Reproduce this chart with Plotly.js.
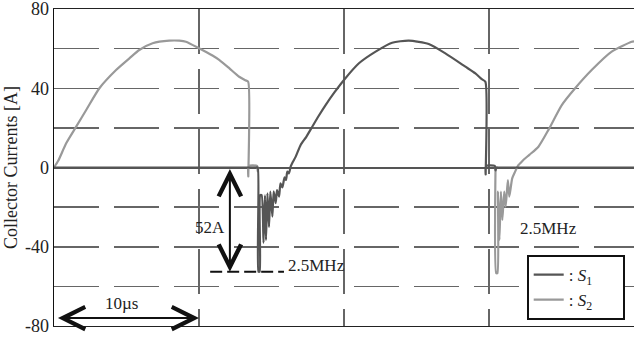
<!DOCTYPE html>
<html>
<head>
<meta charset="utf-8">
<script src="https://cdn.plot.ly/plotly-3.0.1.min.js"></script>
<style>html,body{margin:0;padding:0;background:#fff;}#chart{width:634px;height:337px;}</style>
</head>
<body>
<div id="chart"></div>
<script>
// ---- Data (time in µs, current in A) ----
const seriesNames = [': <i>S</i><sub>1</sub>&nbsp;&nbsp;&nbsp;&nbsp;&nbsp;&nbsp;', ': <i>S</i><sub>2</sub>&nbsp;&nbsp;&nbsp;&nbsp;&nbsp;&nbsp;'];

// S1 (dark trace)
const s1_t = [0, 13.95, 14.05, 14.10, 14.18, 14.22, 14.32, 14.45, 14.55, 14.62, 14.72, 14.83, 14.92, 15.06, 15.15, 15.29, 15.38, 15.52, 15.62, 15.75, 15.90, 16.00, 16.09, 16.20, 16.32, 16.45, 16.67, 17.01, 17.40, 17.81, 18.25, 18.73, 19.35, 20.00, 21.03, 22.18, 23.32, 24.47, 25.84, 26.99, 28.37, 29.06, 29.50, 29.75, 29.77, 29.79, 30.40, 30.45, 30.50, 30.60, 40];
const s1_i = [0, 0, 0, -52.6, -52.6, -14, -13.9, -38, -14, -36.6, -13, -30, -12.2, -24.8, -12, -18, -11.4, -14.7, -8, -10, -5, -6.3, -2.1, -3, 0.4, 2.5, 5.5, 11.4, 15.5, 20.6, 26, 31.5, 38, 44.2, 52.6, 58.5, 63.0, 64.0, 62.3, 57.6, 50.9, 47.5, 44.6, 43.3, -3.5, 0.8, 0.8, -1.5, 0, 0, 0];

// S2 (light trace)
const s2_t = [0, 0.30, 0.84, 1.53, 2.22, 3.13, 4.28, 5.20, 5.88, 6.80, 7.95, 8.64, 9.10, 10.00, 10.93, 11.39, 12.10, 12.77, 13.20, 13.39, 13.40, 13.42, 14.00, 14.05, 14.10, null, 30.45, 30.50, 30.58, 30.62, 30.72, 30.82, 30.92, 31.05, 31.15, 31.30, 31.40, 31.60, 31.80, 32.00, 32.15, 32.40, 32.80, 33.41, 34.10, 35.02, 35.94, 37.08, 38.46, 39.84, 40.00];
const s2_i = [0, 3.5, 12.2, 20.6, 29, 40, 49.2, 55.1, 59.3, 62.7, 64, 64, 63.5, 60.2, 56.5, 54.3, 50, 45.8, 44.0, 43.3, -4.5, 0.8, 0.8, -2, 0, null, 0, -53.4, -53.4, -12.2, -36.6, -12.2, -26.5, -12.2, -19.8, -6.3, -14.7, -5.5, -2.1, 1, 2.1, 4, 6.5, 10.5, 19, 31.5, 40, 49.2, 58.5, 63.5, 63.7];

// Axis ticks
const yTickVals = [-80, -60, -40, -20, 0, 20, 40, 60, 80];
const yTickText = ['-80', '', '-40', '', '0', '', '40', '', '80'];
const xTickVals = [10, 20, 30];

const serif = '"Liberation Serif", "Times New Roman", serif';

const traces = [
  {x: s2_t, y: s2_i, name: seriesNames[1], mode: 'lines', connectgaps: false,
   line: {color: '#999999', width: 2.2, shape: 'spline', smoothing: 0.6}},
  {x: s1_t, y: s1_i, name: seriesNames[0], mode: 'lines', connectgaps: false,
   line: {color: '#555555', width: 2.2, shape: 'spline', smoothing: 0.6}}
];

const layout = {
  width: 634, height: 337,
  margin: {l: 54, r: 0, t: 9, b: 11},
  paper_bgcolor: '#ffffff', plot_bgcolor: '#ffffff',
  font: {family: serif, size: 17, color: '#222'},
  showlegend: true,
  legend: {x: 0.815, y: 0.224, xanchor: 'left', yanchor: 'top',
           bgcolor: '#ffffff', bordercolor: '#111', borderwidth: 2,
           traceorder: 'reversed', font: {family: serif, size: 17, color: '#222'}},
  xaxis: {range: [0, 40], tickmode: 'array', tickvals: xTickVals, showticklabels: false,
          ticks: '', showgrid: true, gridcolor: '#666', gridwidth: 1.5, griddash: '45px,15px',
          zeroline: false, showline: true, linecolor: '#222', linewidth: 1, mirror: true},
  yaxis: {range: [-80, 80], tickmode: 'array', tickvals: yTickVals, ticktext: yTickText,
          ticks: '', showgrid: true, gridcolor: '#666', gridwidth: 1.5, griddash: '45px,15px',
          zeroline: true, zerolinecolor: '#555', zerolinewidth: 2,
          showline: true, linecolor: '#111', linewidth: 1.5, ticklabeloverflow: 'allow',
          tickfont: {family: serif, size: 18, color: '#222'},
          title: {text: 'Collector Currents [A]', font: {family: serif, size: 18, color: '#222'}, standoff: 2}},
  shapes: [
    {type: 'line', xref: 'x', yref: 'y', x0: 10.77, x1: 15.86, y0: -52.6, y1: -52.6,
     line: {color: '#111', width: 2, dash: '12px,5px'}}
  ],
  annotations: [
    {x: 12.13, y: -52.6, ax: 12.13, ay: 0, xref: 'x', yref: 'y', axref: 'x', ayref: 'y',
     text: '', showarrow: true, arrowside: 'end+start', arrowhead: 5, startarrowhead: 5,
     arrowsize: 2.2, startarrowsize: 2.2, arrowwidth: 2, arrowcolor: '#111', standoff: 0, startstandoff: 0},
    {x: 10.0, y: -76, ax: 0.17, ay: -76, xref: 'x', yref: 'y', axref: 'x', ayref: 'y',
     text: '', showarrow: true, arrowside: 'end+start', arrowhead: 5, startarrowhead: 5,
     arrowsize: 2.2, startarrowsize: 2.2, arrowwidth: 2, arrowcolor: '#111', standoff: 0, startstandoff: 0},
    {x: 11.94, y: -30.5, xref: 'x', yref: 'y', text: '52A', showarrow: false, xanchor: 'right', yanchor: 'middle',
     font: {family: serif, size: 17, color: '#222'}},
    {x: 16.0, y: -49.7, xref: 'x', yref: 'y', text: '2.5MHz', showarrow: false, xanchor: 'left', yanchor: 'middle',
     font: {family: serif, size: 17, color: '#222'}},
    {x: 31.97, y: -30.8, xref: 'x', yref: 'y', text: '2.5MHz', showarrow: false, xanchor: 'left', yanchor: 'middle',
     font: {family: serif, size: 17, color: '#222'}},
    {x: 4.65, y: -68.4, xref: 'x', yref: 'y', text: '10µs', showarrow: false, xanchor: 'center', yanchor: 'middle',
     font: {family: serif, size: 17, color: '#222'}}
  ]
};

Plotly.newPlot('chart', traces, layout, {displayModeBar: false, staticPlot: true});
</script>
</body>
</html>
